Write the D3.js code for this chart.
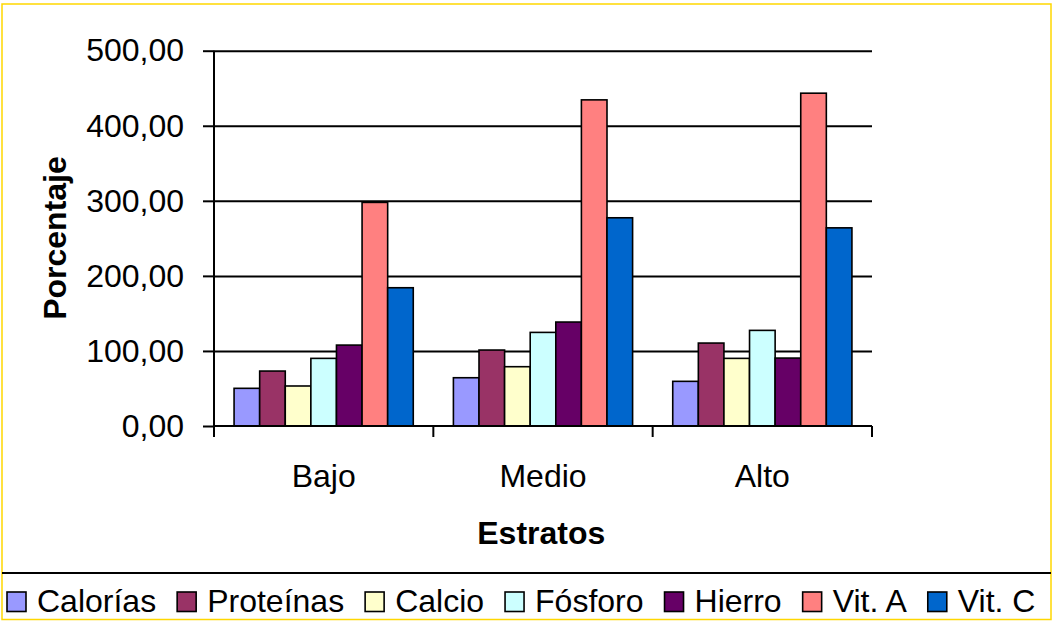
<!DOCTYPE html>
<html>
<head>
<meta charset="utf-8">
<script src="https://cdn.jsdelivr.net/npm/d3@7"></script>
<style>
  html, body { margin: 0; padding: 0; background: #fff; }
  svg { display: block; }
  text { font-family: "Liberation Sans", Arial, sans-serif; fill: #000; }
</style>
</head>
<body>
<svg id="chart" width="1055" height="621"></svg>
<script>
const categories = ["Bajo", "Medio", "Alto"];
const seriesNames = ["Calorías", "Proteínas", "Calcio", "Fósforo", "Hierro", "Vit. A", "Vit. C"];
const calorias  = [50.2, 64.3, 59.5];
const proteinas = [73.2, 101.2, 110.5];
const calcio    = [53.3, 79.0, 90.1];
const fosforo   = [90.1, 124.7, 127.4];
const hierro    = [107.8, 138.5, 90.5];
const vitA      = [297.9, 434.5, 443.4];
const vitC      = [184.2, 277.4, 264.0];
const yTicks = [0, 100, 200, 300, 400, 500];
const colors = ["#9999FF", "#993366", "#FFFFCC", "#CCFFFF", "#660066", "#FF8080", "#0066CC"];

const seriesValues = [calorias, proteinas, calcio, fosforo, hierro, vitA, vitC];

const svg = d3.select("#chart");
const pLeft = 214, pRight = 872, pTop = 50.7, pBottom = 426;

// outer border
svg.append("rect").attr("x", 2).attr("y", 4).attr("width", 1049).attr("height", 615.5)
  .attr("fill", "#fff").attr("stroke", "#FFD700").attr("stroke-width", 1.5);

const y = d3.scaleLinear().domain([0, 500]).range([pBottom, pTop]);
const x0 = d3.scaleBand().domain(categories).range([pLeft, pRight])
  .paddingInner(0.183).paddingOuter(0.0915);
const x1 = d3.scaleBand().domain(seriesNames).range([0, x0.bandwidth()]);

// gridlines
svg.append("g").attr("transform", `translate(${pLeft},0)`)
  .call(d3.axisLeft(y).tickValues(yTicks.filter(d => d > 0)).tickSize(-(pRight - pLeft)).tickFormat(""))
  .call(g => g.select(".domain").remove())
  .call(g => g.selectAll("line").attr("stroke", "#000").attr("stroke-width", 2));

// bars
const rows = categories.map((c, i) => ({ cat: c, vals: seriesNames.map((s, j) => ({ s, j, v: seriesValues[j][i] })) }));
svg.append("g").selectAll("g").data(rows).join("g")
  .attr("transform", d => `translate(${x0(d.cat)},0)`)
  .selectAll("rect").data(d => d.vals).join("rect")
  .attr("x", d => x1(d.s))
  .attr("y", d => y(d.v))
  .attr("width", x1.bandwidth())
  .attr("height", d => y(0) - y(d.v))
  .attr("fill", d => colors[d.j])
  .attr("stroke", "#000").attr("stroke-width", 1.6);

// y axis
const yAxis = svg.append("g").attr("transform", `translate(${pLeft},0)`)
  .call(d3.axisLeft(y).tickValues(yTicks).tickSize(11).tickPadding(19)
    .tickFormat(d => d.toFixed(2).replace(".", ",")));
yAxis.select(".domain").attr("d", `M0,${pTop}V${pBottom + 11}`).attr("stroke", "#000").attr("stroke-width", 2);
yAxis.selectAll("line").attr("stroke", "#000").attr("stroke-width", 2);
yAxis.selectAll("text").attr("font-size", 32).attr("font-family", "Liberation Sans, Arial, sans-serif").attr("fill", "#000");

// x axis
const xAxis = svg.append("g").attr("transform", `translate(0,${pBottom})`)
  .call(d3.axisBottom(x0).tickSize(0).tickPadding(0));
xAxis.select(".domain").attr("d", `M${pLeft},0H${pRight}`).attr("stroke", "#000").attr("stroke-width", 2);
xAxis.selectAll("text").attr("font-size", 32).attr("font-family", "Liberation Sans, Arial, sans-serif")
  .attr("fill", "#000").attr("dy", null).attr("y", 60.7);
const step = x0.step();
const boundaries = d3.range(categories.length + 1).map(i => pLeft + i * step);
xAxis.selectAll(".cat-tick").data(boundaries).join("line").attr("class", "cat-tick")
  .attr("x1", d => d).attr("x2", d => d).attr("y1", 0).attr("y2", 11)
  .attr("stroke", "#000").attr("stroke-width", 2);

// axis titles
svg.append("text").attr("x", 541.3).attr("y", 544.3).attr("text-anchor", "middle")
  .attr("font-size", 32).attr("font-weight", "bold").text("Estratos");
svg.append("text").attr("transform", `translate(66,238) rotate(-90)`).attr("text-anchor", "middle")
  .attr("font-size", 32).attr("font-weight", "bold").text("Porcentaje");

// legend
svg.append("line").attr("x1", 2).attr("x2", 1051).attr("y1", 573).attr("y2", 573)
  .attr("stroke", "#000").attr("stroke-width", 2);
const leg = svg.append("g");
let lx = 7;
seriesNames.forEach((name, i) => {
  leg.append("rect").attr("x", lx).attr("y", 592).attr("width", 19).attr("height", 19.5)
    .attr("fill", colors[i]).attr("stroke", "#000").attr("stroke-width", 1.6);
  const t = leg.append("text").attr("x", lx + 30).attr("y", 611.7).attr("font-size", 32).text(name);
  const w = t.node().getComputedTextLength();
  lx = lx + 30 + w + 21;
});
</script>
</body>
</html>
